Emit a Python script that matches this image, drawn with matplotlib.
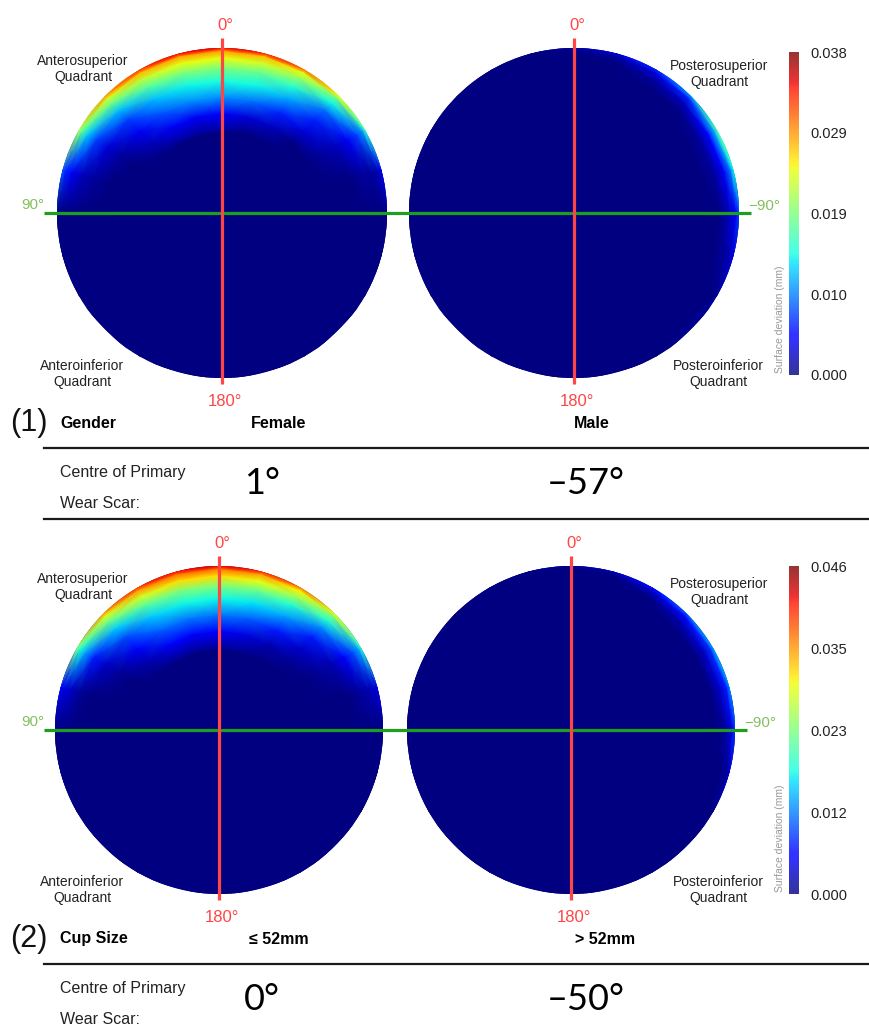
import numpy as np
import matplotlib
matplotlib.use('Agg')
import matplotlib.pyplot as plt
from matplotlib.patches import Circle
from matplotlib.colors import Normalize, ListedColormap
from matplotlib.cm import ScalarMappable

plt.rcParams['font.family'] = ['Liberation Sans', 'DejaVu Sans']

# polar sampling grid of the wear maps: angle from top (positive = anterior / left),
# radius as fraction of the rim
ANGLES = [180, 150, 120, 105, 90, 75, 60, 45, 30, 15, 0, -15, -30, -45, -60, -75, -90, -105, -120, -150]
RADII = [1.0, 0.98, 0.94, 0.88, 0.80, 0.70, 0.60, 0.50]

# surface deviation (mm), one row per radius
female = [
    [0, 0, 0, 0, 0, .008, .021, .028, .032, .034, .034, .033, .030, .024, .015, .004, 0, 0, 0, 0],
    [0, 0, 0, 0, 0, .006, .017, .023, .027, .028, .028, .027, .024, .018, .010, .002, 0, 0, 0, 0],
    [0, 0, 0, 0, 0, .004, .012, .018, .022, .024, .024, .023, .020, .014, .007, .001, 0, 0, 0, 0],
    [0, 0, 0, 0, 0, .002, .007, .012, .017, .019, .019, .018, .015, .009, .004, .001, 0, 0, 0, 0],
    [0, 0, 0, 0, 0, .001, .003, .007, .012, .014, .0145, .014, .011, .006, .002, 0, 0, 0, 0, 0],
    [0, 0, 0, 0, 0, 0, .001, .004, .008, .010, .010, .009, .006, .003, .001, 0, 0, 0, 0, 0],
    [0, 0, 0, 0, 0, 0, 0, .002, .004, .004, .004, .003, .002, 0, 0, 0, 0, 0, 0, 0],
    [0, 0, 0, 0, 0, 0, 0, 0, .001, .001, .001, 0, 0, 0, 0, 0, 0, 0, 0, 0],
]
male = [
    [0, 0, 0, 0, 0, 0, 0, 0, 0, 0, .001, .003, .006, .010, .017, .014, .007, .003, .001, 0],
    [0, 0, 0, 0, 0, 0, 0, 0, 0, 0, 0, .001, .003, .006, .011, .009, .004, .002, 0, 0],
    [0, 0, 0, 0, 0, 0, 0, 0, 0, 0, 0, 0, .001, .002, .005, .004, .002, .001, 0, 0],
    [0, 0, 0, 0, 0, 0, 0, 0, 0, 0, 0, 0, 0, 0, .001, .001, 0, 0, 0, 0],
    [0, 0, 0, 0, 0, 0, 0, 0, 0, 0, 0, 0, 0, 0, 0, 0, 0, 0, 0, 0],
    [0, 0, 0, 0, 0, 0, 0, 0, 0, 0, 0, 0, 0, 0, 0, 0, 0, 0, 0, 0],
    [0, 0, 0, 0, 0, 0, 0, 0, 0, 0, 0, 0, 0, 0, 0, 0, 0, 0, 0, 0],
    [0, 0, 0, 0, 0, 0, 0, 0, 0, 0, 0, 0, 0, 0, 0, 0, 0, 0, 0, 0],
]
cup_small = [
    [0, 0, 0, 0, 0, .006, .023, .034, .039, .041, .042, .040, .036, .029, .018, .004, 0, 0, 0, 0],
    [0, 0, 0, 0, 0, .004, .018, .028, .034, .036, .036, .034, .030, .023, .013, .003, 0, 0, 0, 0],
    [0, 0, 0, 0, 0, .003, .013, .022, .028, .031, .031, .029, .025, .018, .009, .002, 0, 0, 0, 0],
    [0, 0, 0, 0, 0, .001, .007, .015, .021, .023, .023, .022, .018, .012, .005, .001, 0, 0, 0, 0],
    [0, 0, 0, 0, 0, 0, .003, .009, .015, .017, .017, .016, .013, .007, .002, 0, 0, 0, 0, 0],
    [0, 0, 0, 0, 0, 0, .001, .005, .010, .011, .011, .010, .007, .003, .001, 0, 0, 0, 0, 0],
    [0, 0, 0, 0, 0, 0, 0, .002, .005, .005, .005, .004, .002, .001, 0, 0, 0, 0, 0, 0],
    [0, 0, 0, 0, 0, 0, 0, 0, .001, .001, .001, .001, 0, 0, 0, 0, 0, 0, 0, 0],
]
cup_large = [
    [0, 0, 0, 0, 0, 0, 0, 0, 0, 0, .001, .002, .006, .010, .013, .012, .008, .003, 0, 0],
    [0, 0, 0, 0, 0, 0, 0, 0, 0, 0, 0, 0, .003, .006, .008, .007, .004, .001, 0, 0],
    [0, 0, 0, 0, 0, 0, 0, 0, 0, 0, 0, 0, 0, .002, .003, .003, .001, 0, 0, 0],
    [0, 0, 0, 0, 0, 0, 0, 0, 0, 0, 0, 0, 0, 0, 0, 0, 0, 0, 0, 0],
    [0, 0, 0, 0, 0, 0, 0, 0, 0, 0, 0, 0, 0, 0, 0, 0, 0, 0, 0, 0],
    [0, 0, 0, 0, 0, 0, 0, 0, 0, 0, 0, 0, 0, 0, 0, 0, 0, 0, 0, 0],
    [0, 0, 0, 0, 0, 0, 0, 0, 0, 0, 0, 0, 0, 0, 0, 0, 0, 0, 0, 0],
    [0, 0, 0, 0, 0, 0, 0, 0, 0, 0, 0, 0, 0, 0, 0, 0, 0, 0, 0, 0],
]

vmax_top = 0.038
vmax_bottom = 0.046
ticks_top = ['0.000', '0.010', '0.019', '0.029', '0.038']
ticks_bottom = ['0.000', '0.012', '0.023', '0.035', '0.046']

groups = [('(1)', 'Gender', 'Female', 'Male', '1°', '–57°'),
          ('(2)', 'Cup Size', '≤ 52mm', '> 52mm', '0°', '–50°')]

RED = '#ff4545'
GREEN = '#1e9e1e'
LGREEN = '#85bf5e'

fig = plt.figure(figsize=(8.7, 10.32), dpi=100)
ax = fig.add_axes([0, 0, 1, 1])
ax.set_xlim(0, 870)
ax.set_ylim(1032, 0)
ax.axis('off')

jet = plt.get_cmap('jet')
cols = jet(np.linspace(0, 1, 256))
cols[:, :3] = cols[:, :3] * 0.8 + 0.2
light_jet = ListedColormap(cols)


def disk(cx, cy, R, vals, vmax):
    base = Circle((cx, cy), R, facecolor=jet(0.0), edgecolor='none', zorder=1)
    ax.add_patch(base)
    v = np.array(vals, dtype=float)
    v = np.vstack([v[:1], v])           # rim row pushed just outside, clipped round by the circle
    v = np.hstack([v, v[:, :1]])        # close the ring at -180
    r = np.concatenate([[1.03], RADII])
    th = np.radians(ANGLES + [-180])
    T, Rg = np.meshgrid(th, r)
    X = cx - R * Rg * np.sin(T)
    Y = cy - R * Rg * np.cos(T)
    m = ax.pcolormesh(X, Y, v, cmap=jet, vmin=0, vmax=vmax, shading='gouraud', zorder=2)
    m.set_clip_path(base)


def panel(cy, cl, cr, R, left_vals, right_vals, vmax, tick_labels, cb_span, grp):
    disk(cl, cy, R, left_vals, vmax)
    disk(cr, cy, R, right_vals, vmax)
    # axis lines
    ax.plot([44, cr + R + 12], [cy, cy], color=GREEN, lw=2.3, zorder=3, solid_capstyle='butt')
    for cx in (cl, cr):
        ax.plot([cx, cx], [cy - R - 10, cy + R + 6], color=RED, lw=2.3, zorder=4, solid_capstyle='butt')
        ax.text(cx + 3, cy - R - 23, '0°', color=RED, fontsize=12, ha='center', va='center')
        ax.text(cx + 3, cy + R + 23, '180°', color=RED, fontsize=12, ha='center', va='center')
    ax.text(33, cy - 8, '90°', color=LGREEN, fontsize=11, ha='center', va='center')
    ax.text(cr + R + 25, cy - 7, '−90°', color=LGREEN, fontsize=11, ha='center', va='center')
    # quadrant labels
    kw = dict(fontsize=10, ha='center', va='center', color='#222222', linespacing=1.15)
    ax.text(83, cy - R + 21, 'Anterosuperior\nQuadrant', **kw)
    ax.text(719, cy - R + 26, 'Posterosuperior\nQuadrant', **kw)
    ax.text(82, cy + R - 4, 'Anteroinferior\nQuadrant', **kw)
    ax.text(718, cy + R - 4, 'Posteroinferior\nQuadrant', **kw)
    # colour bar
    top, bot = cb_span
    cax = fig.add_axes([789 / 870, 1 - bot / 1032, 10 / 870, (bot - top) / 1032])
    cb = fig.colorbar(ScalarMappable(norm=Normalize(0, vmax), cmap=light_jet), cax=cax,
                      ticks=np.linspace(0, vmax, len(tick_labels)))
    cb.ax.set_yticklabels(tick_labels)
    cb.outline.set_visible(False)
    cax.tick_params(length=0, pad=8, labelsize=10.5, labelcolor='#222222')
    ax.text(780, bot - 56, 'Surface deviation (mm)', rotation=90, fontsize=7.5,
            color='#9a9a9a', ha='center', va='center')
    # table rows underneath
    num, name, lab_l, lab_r, val_l, val_r = grp
    ty = cy + R + 45
    ax.text(10, ty, num, fontsize=22, ha='left', va='center', color='#111111')
    ax.text(60, ty, name, fontsize=11.5, fontweight='bold', ha='left', va='center')
    ax.text(279, ty, lab_l, fontsize=11.5, fontweight='bold', ha='center', va='center')
    ax.text(605 if lab_r.startswith('>') else 592, ty, lab_r, fontsize=11.5,
            fontweight='bold', ha='center', va='center')
    ax.plot([44, 870], [ty + 25, ty + 25], color='#1a1a1a', lw=1.6)
    ax.text(60, ty + 50, 'Centre of Primary', fontsize=11.5, ha='left', va='center', color='#222222')
    ax.text(60, ty + 80, 'Wear Scar:', fontsize=11.5, ha='left', va='center', color='#222222')
    ax.text(244, ty + 61, val_l, fontsize=26, family=['Lato', 'DejaVu Sans'], ha='left', va='center')
    ax.text(547, ty + 60, val_r, fontsize=26, family=['Lato', 'DejaVu Sans'], ha='left', va='center')


panel(213, 222, 574, 165, female, male, vmax_top, ticks_top, (52, 375), groups[0])
ax.plot([44, 870], [519, 519], color='#1a1a1a', lw=1.6)
panel(730, 219, 571, 164, cup_small, cup_large, vmax_bottom, ticks_bottom, (566, 894), groups[1])

fig.savefig('out.png', dpi=100)
